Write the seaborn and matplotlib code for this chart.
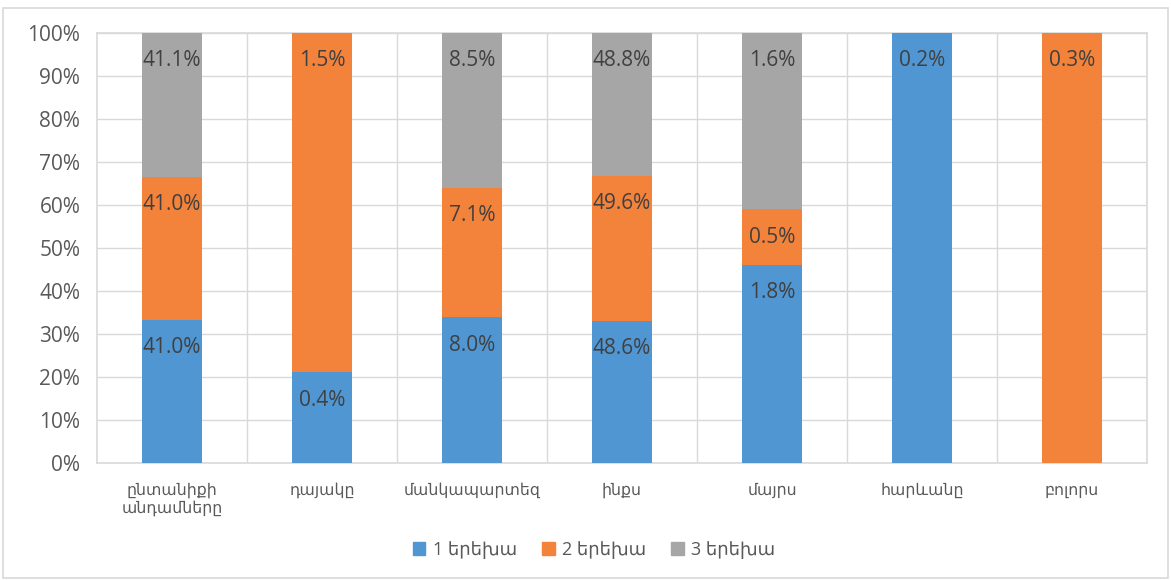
import matplotlib
matplotlib.use("Agg")
import matplotlib.pyplot as plt
import matplotlib.patches as mpatches
import seaborn as sns
import numpy as np

categories = ["ընտանիքի\nանդամները", "դայակը", "մանկապարտեզ", "ինքս", "մայրս", "հարևանը", "բոլորս"]
series_names = ["1 երեխա", "2 երեխա", "3 երեխա"]
one_child = [41.0, 0.4, 8.0, 48.6, 1.8, 0.2, 0.0]
two_children = [41.0, 1.5, 7.1, 49.6, 0.5, 0.0, 0.3]
three_children = [41.1, 0.0, 8.5, 48.8, 1.6, 0.0, 0.0]
colors = ["#4F96D2", "#F3823B", "#A6A6A6"]

sns.set_theme(style="white")
plt.rcParams["font.family"] = ["Open Sans", "DejaVu Sans"]

fig = plt.figure(figsize=(11.71, 5.8), dpi=100)
ax = fig.add_axes([97 / 1171, 1 - 463 / 580, (1147 - 97) / 1171, (463 - 33) / 580])

vals = np.array([one_child, two_children, three_children])
totals = vals.sum(axis=0)
shares = vals / totals * 100
cum = np.cumsum(shares, axis=0)

# draw from top segment downward so lower segments overlay
for i in [2, 1, 0]:
    sns.barplot(x=categories, y=cum[i], color=colors[i], width=0.4,
                saturation=1, ax=ax, zorder=3, linewidth=0)

for i in range(3):
    for j in range(len(categories)):
        v = vals[i][j]
        if v > 0:
            ax.annotate(f"{v:.1f}%", xy=(j, cum[i][j]), xytext=(0, -28),
                        textcoords="offset pixels", ha="center", va="center",
                        fontsize=15, color="#404040", zorder=5)

ax.set_xlim(-0.5, len(categories) - 0.5)
ax.set_ylim(0, 100)
ax.set_yticks(np.arange(0, 101, 10))
ax.set_yticklabels([f"{t}%" for t in range(0, 101, 10)])
ax.set_xticks(np.arange(len(categories)) + 0.5, minor=True)
ax.grid(True, axis="y", color="#D9D9D9", linewidth=1, zorder=0)
ax.grid(True, axis="x", which="minor", color="#D9D9D9", linewidth=1, zorder=0)
ax.grid(False, axis="x", which="major")
ax.set_axisbelow(True)
ax.tick_params(axis="y", labelsize=15, colors="#595959", length=0, pad=12)
ax.tick_params(axis="x", labelsize=11.3, colors="#595959", length=0, pad=14)
ax.tick_params(axis="x", which="minor", length=0)
ax.set_xlabel("")
ax.set_ylabel("")
for s in ax.spines.values():
    s.set_color("#D9D9D9")
    s.set_linewidth(1.2)
    s.set_visible(True)

handles = [mpatches.Patch(color=c, label=n) for c, n in zip(colors, series_names)]
fig.legend(handles=handles, loc="center", bbox_to_anchor=(594 / 1171, 1 - 550 / 580),
           ncol=3, frameon=False, fontsize=13, handlelength=0.7, handleheight=0.7,
           handletextpad=0.4, columnspacing=1.4, labelcolor="#595959")

border = mpatches.Rectangle((3 / 1171, 2 / 580), 1 - 6 / 1171, 1 - 10 / 580,
                            transform=fig.transFigure, fill=False,
                            edgecolor="#D9D9D9", linewidth=1.2)
fig.patches.append(border)

fig.savefig("out.png", dpi=100)
